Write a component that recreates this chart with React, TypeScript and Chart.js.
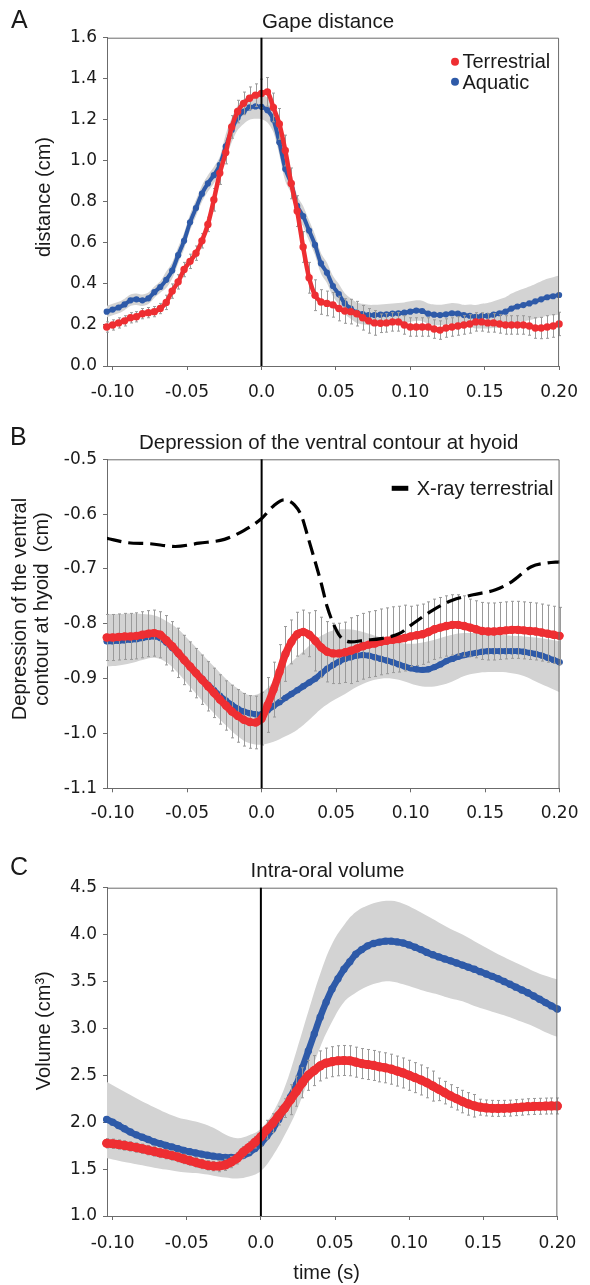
import React, { useEffect, useRef } from "react";
import { Chart, registerables } from "chart.js";

Chart.register(...registerables);

// ---------------- data ----------------
// sampling times (s)
const TIME: number[] = [
  -0.104, -0.1, -0.096, -0.092, -0.088, -0.084, -0.08, -0.076, -0.072, -0.068,
  -0.064, -0.06, -0.056, -0.052, -0.048, -0.044, -0.04, -0.036, -0.032, -0.028,
  -0.024, -0.02, -0.016, -0.012, -0.008, -0.004, 0.0, 0.004, 0.008, 0.012,
  0.016, 0.02, 0.024, 0.028, 0.032, 0.036, 0.04, 0.044, 0.048, 0.052,
  0.056, 0.06, 0.064, 0.068, 0.072, 0.076, 0.08, 0.084, 0.088, 0.092,
  0.096, 0.1, 0.104, 0.108, 0.112, 0.116, 0.12, 0.124, 0.128, 0.132,
  0.136, 0.14, 0.144, 0.148, 0.152, 0.156, 0.16, 0.164, 0.168, 0.172,
  0.176, 0.18, 0.184, 0.188, 0.192, 0.196, 0.2,
];
const BAND_TIME: number[] = [
  -0.104, -0.096, -0.088, -0.08, -0.072, -0.064, -0.056, -0.048, -0.04, -0.032,
  -0.024, -0.016, -0.008, 0.0, 0.008, 0.016, 0.024, 0.032, 0.04, 0.048,
  0.056, 0.064, 0.072, 0.08, 0.088, 0.096, 0.104, 0.112, 0.12, 0.128,
  0.136, 0.144, 0.152, 0.16, 0.168, 0.176, 0.184, 0.192, 0.2,
];

const X_TICKS = [-0.1, -0.05, 0, 0.05, 0.1, 0.15, 0.2];
const X_TICK_LABELS = ["-0.10", "-0.05", "0.0", "0.05", "0.10", "0.15", "0.20"];

// Panel A: gape distance (cm)
const Y_TICKS_A = [0, 0.2, 0.4, 0.6, 0.8, 1.0, 1.2, 1.4, 1.6];
const Y_LABELS_A = ["0.0", "0.2", "0.4", "0.6", "0.8", "1.0", "1.2", "1.4", "1.6"];
const A_TERRESTRIAL: number[] = [
  0.19, 0.2, 0.21, 0.22, 0.235, 0.24, 0.255, 0.26, 0.265, 0.28,
  0.31, 0.365, 0.41, 0.47, 0.51, 0.55, 0.61, 0.69, 0.81, 0.94,
  1.04, 1.165, 1.24, 1.28, 1.305, 1.32, 1.328, 1.336, 1.26, 1.18,
  1.05, 0.89, 0.755, 0.58, 0.43, 0.345, 0.312, 0.305, 0.298, 0.28,
  0.268, 0.265, 0.255, 0.235, 0.22, 0.21, 0.208, 0.21, 0.215, 0.215,
  0.2, 0.19, 0.19, 0.19, 0.19, 0.18, 0.175, 0.185, 0.19, 0.195,
  0.2, 0.205, 0.215, 0.215, 0.21, 0.21, 0.205, 0.2, 0.2, 0.2,
  0.2, 0.195, 0.185, 0.185, 0.19, 0.195, 0.205,
];
const A_TERRESTRIAL_SE: number[] = [
  0.025, 0.025, 0.025, 0.025, 0.025, 0.025, 0.025, 0.025, 0.025, 0.025,
  0.035, 0.035, 0.035, 0.035, 0.035, 0.035, 0.035, 0.035, 0.055, 0.055,
  0.055, 0.055, 0.055, 0.055, 0.055, 0.055, 0.07, 0.07, 0.07, 0.075,
  0.075, 0.075, 0.075, 0.075, 0.075, 0.075, 0.06, 0.06, 0.06, 0.06,
  0.06, 0.06, 0.06, 0.06, 0.06, 0.06, 0.045, 0.045, 0.045, 0.045,
  0.045, 0.045, 0.045, 0.045, 0.045, 0.045, 0.045, 0.045, 0.045, 0.045,
  0.045, 0.045, 0.045, 0.045, 0.045, 0.045, 0.045, 0.045, 0.045, 0.045,
  0.045, 0.045, 0.05, 0.052, 0.055, 0.055, 0.057,
];
const A_AQUATIC: number[] = [
  0.265, 0.275, 0.285, 0.3, 0.32, 0.325, 0.32, 0.33, 0.36, 0.385,
  0.42, 0.465, 0.54, 0.61, 0.7, 0.77, 0.84, 0.89, 0.93, 0.98,
  1.07, 1.15, 1.21, 1.24, 1.26, 1.265, 1.263, 1.247, 1.2, 1.09,
  0.96, 0.89, 0.78, 0.73, 0.66, 0.59, 0.5, 0.455, 0.39, 0.35,
  0.305, 0.28, 0.26, 0.253, 0.248, 0.248, 0.25, 0.252, 0.255, 0.257,
  0.26, 0.265, 0.27, 0.268, 0.255, 0.25, 0.248, 0.252, 0.257, 0.255,
  0.248, 0.245, 0.24, 0.243, 0.245, 0.25, 0.257, 0.265, 0.28, 0.29,
  0.297, 0.305, 0.315, 0.325, 0.335, 0.34, 0.346,
];
const A_AQUATIC_SE: number[] = [
  0.028, 0.028, 0.028, 0.028, 0.028, 0.028, 0.028, 0.028, 0.028, 0.028,
  0.04, 0.04, 0.04, 0.04, 0.04, 0.04, 0.04, 0.04, 0.04, 0.04,
  0.06, 0.06, 0.06, 0.06, 0.06, 0.06, 0.06, 0.06, 0.06, 0.06,
  0.06, 0.05, 0.05, 0.05, 0.05, 0.05, 0.05, 0.05, 0.05, 0.05,
  0.05, 0.05, 0.05, 0.05, 0.05, 0.05, 0.05, 0.05, 0.05, 0.05,
  0.05, 0.05, 0.05, 0.05, 0.05, 0.05, 0.05, 0.05, 0.05, 0.05,
  0.05, 0.055, 0.057, 0.06, 0.062, 0.065, 0.068, 0.07, 0.073, 0.076,
  0.079, 0.082, 0.085, 0.088, 0.09, 0.093, 0.095,
];

// Panel B: depression of the ventral contour at hyoid (cm)
const Y_TICKS_B = [-1.1, -1.0, -0.9, -0.8, -0.7, -0.6, -0.5];
const Y_LABELS_B = ["-1.1", "-1.0", "-0.9", "-0.8", "-0.7", "-0.6", "-0.5"];
const B_TERRESTRIAL: number[] = [
  -0.825, -0.825, -0.824, -0.823, -0.823, -0.822, -0.82, -0.818, -0.817, -0.82,
  -0.83, -0.841, -0.853, -0.866, -0.878, -0.89, -0.902, -0.914, -0.926, -0.938,
  -0.949, -0.96, -0.968, -0.975, -0.979, -0.98, -0.973, -0.948, -0.92, -0.888,
  -0.855, -0.833, -0.819, -0.815, -0.82, -0.831, -0.843, -0.851, -0.854, -0.854,
  -0.852, -0.849, -0.845, -0.841, -0.838, -0.836, -0.833, -0.831, -0.829, -0.828,
  -0.826, -0.823, -0.821, -0.819, -0.815, -0.81, -0.807, -0.804, -0.802, -0.802,
  -0.804, -0.807, -0.81, -0.813, -0.814, -0.814, -0.813, -0.812, -0.811, -0.811,
  -0.812, -0.813, -0.814, -0.816, -0.818, -0.82, -0.822,
];
const B_TERRESTRIAL_SE: number[] = [
  0.042, 0.042, 0.042, 0.042, 0.042, 0.042, 0.042, 0.042, 0.042, 0.042,
  0.045, 0.045, 0.045, 0.045, 0.045, 0.045, 0.045, 0.045, 0.045, 0.045,
  0.045, 0.048, 0.048, 0.048, 0.048, 0.048, 0.048, 0.05, 0.05, 0.05,
  0.05, 0.04, 0.04, 0.04, 0.04, 0.055, 0.055, 0.055, 0.055, 0.055,
  0.055, 0.06, 0.06, 0.06, 0.06, 0.06, 0.06, 0.06, 0.06, 0.06,
  0.06, 0.055, 0.055, 0.055, 0.055, 0.055, 0.055, 0.055, 0.055, 0.055,
  0.055, 0.052, 0.052, 0.052, 0.052, 0.052, 0.052, 0.052, 0.052, 0.052,
  0.052, 0.052, 0.052, 0.052, 0.052, 0.052, 0.052,
];
const B_AQUATIC: number[] = [
  -0.832, -0.832, -0.831, -0.83, -0.829, -0.828, -0.826, -0.824, -0.823, -0.826,
  -0.834, -0.844, -0.855, -0.867, -0.878, -0.889, -0.9, -0.911, -0.921, -0.931,
  -0.94, -0.948, -0.955, -0.96, -0.963, -0.965, -0.965, -0.958, -0.95, -0.943,
  -0.935, -0.928, -0.921, -0.914, -0.907, -0.9, -0.891, -0.882, -0.875, -0.869,
  -0.864, -0.861, -0.858, -0.857, -0.858, -0.861, -0.864, -0.867, -0.87, -0.874,
  -0.878, -0.881, -0.883, -0.884, -0.883, -0.879, -0.874, -0.868, -0.864, -0.86,
  -0.857, -0.855, -0.853, -0.851, -0.85, -0.85, -0.85, -0.85, -0.85, -0.85,
  -0.851, -0.853, -0.855, -0.858, -0.862, -0.866, -0.87,
];
const B_AQUATIC_UPPER: number[] = [
  -0.782, -0.782, -0.781, -0.782, -0.785, -0.795, -0.81, -0.832, -0.855, -0.878,
  -0.9, -0.918, -0.93, -0.925, -0.905, -0.88, -0.86, -0.84, -0.822, -0.812,
  -0.81, -0.812, -0.818, -0.825, -0.832, -0.836, -0.836, -0.832, -0.826, -0.82,
  -0.817, -0.817, -0.818, -0.82, -0.822, -0.823, -0.825, -0.828, -0.832,
];
const B_AQUATIC_LOWER: number[] = [
  -0.878, -0.876, -0.872, -0.866, -0.862, -0.87, -0.89, -0.915, -0.94, -0.963,
  -0.985, -1.005, -1.018, -1.02, -1.015, -1.005, -0.993, -0.975, -0.955, -0.94,
  -0.928, -0.915, -0.905, -0.9, -0.9, -0.905, -0.912, -0.915, -0.912, -0.905,
  -0.895, -0.89, -0.888, -0.888, -0.89, -0.895, -0.905, -0.915, -0.925,
];
const XRAY_TIME: number[] = [
  -0.104, -0.09, -0.075, -0.058, -0.042, -0.025, -0.012, 0.0, 0.008, 0.015,
  0.022, 0.027, 0.031, 0.035, 0.04, 0.044, 0.049, 0.053, 0.06, 0.069,
  0.08, 0.093, 0.102, 0.115, 0.128, 0.142, 0.157, 0.168, 0.181, 0.192, 0.2,
];
const XRAY_TERRESTRIAL: number[] = [
  -0.644, -0.652, -0.654, -0.659, -0.653, -0.646, -0.63, -0.608, -0.585, -0.574,
  -0.583, -0.605, -0.641, -0.678, -0.726, -0.769, -0.805, -0.824, -0.833, -0.83,
  -0.827, -0.817, -0.799, -0.775, -0.757, -0.747, -0.738, -0.723, -0.696, -0.689, -0.687,
];

// Panel C: intra-oral volume (cm3)
const Y_TICKS_C = [1.0, 1.5, 2.0, 2.5, 3.0, 3.5, 4.0, 4.5];
const Y_LABELS_C = ["1.0", "1.5", "2.0", "2.5", "3.0", "3.5", "4.0", "4.5"];
const C_TERRESTRIAL: number[] = [
  1.775, 1.77, 1.762, 1.752, 1.742, 1.73, 1.717, 1.702, 1.688, 1.673,
  1.66, 1.645, 1.628, 1.608, 1.59, 1.572, 1.555, 1.54, 1.532, 1.532,
  1.545, 1.575, 1.615, 1.68, 1.73, 1.785, 1.845, 1.92, 1.99, 2.07,
  2.15, 2.24, 2.33, 2.42, 2.5, 2.55, 2.6, 2.63, 2.645, 2.655,
  2.658, 2.655, 2.64, 2.625, 2.615, 2.605, 2.59, 2.58, 2.565, 2.545,
  2.525, 2.5, 2.475, 2.45, 2.42, 2.385, 2.35, 2.315, 2.28, 2.25,
  2.22, 2.195, 2.175, 2.16, 2.152, 2.148, 2.147, 2.148, 2.15, 2.155,
  2.16, 2.165, 2.168, 2.17, 2.172, 2.173, 2.173,
];
const C_TERRESTRIAL_SE: number[] = [
  0.05, 0.05, 0.05, 0.05, 0.05, 0.05, 0.05, 0.05, 0.05, 0.05,
  0.05, 0.05, 0.05, 0.05, 0.05, 0.05, 0.05, 0.05, 0.05, 0.06,
  0.06, 0.06, 0.06, 0.06, 0.06, 0.06, 0.1, 0.1, 0.1, 0.1,
  0.1, 0.16, 0.16, 0.16, 0.16, 0.16, 0.16, 0.16, 0.16, 0.16,
  0.16, 0.16, 0.16, 0.16, 0.16, 0.16, 0.16, 0.16, 0.16, 0.16,
  0.16, 0.16, 0.16, 0.16, 0.16, 0.16, 0.12, 0.12, 0.12, 0.12,
  0.12, 0.12, 0.12, 0.085, 0.085, 0.085, 0.085, 0.085, 0.085, 0.085,
  0.085, 0.085, 0.085, 0.085, 0.085, 0.085, 0.085,
];
const C_AQUATIC: number[] = [
  2.03, 2.0, 1.965, 1.93, 1.895, 1.865, 1.84, 1.815, 1.79, 1.772,
  1.752, 1.735, 1.718, 1.7, 1.685, 1.672, 1.66, 1.648, 1.638, 1.63,
  1.625, 1.624, 1.628, 1.645, 1.675, 1.72, 1.775, 1.85, 1.93, 2.03,
  2.15, 2.27, 2.4, 2.58, 2.76, 2.94, 3.12, 3.28, 3.42, 3.53,
  3.63, 3.71, 3.79, 3.84, 3.88, 3.905, 3.92, 3.93, 3.93, 3.922,
  3.91, 3.89, 3.865, 3.84, 3.81, 3.785, 3.762, 3.74, 3.72, 3.697,
  3.675, 3.652, 3.63, 3.605, 3.58, 3.555, 3.53, 3.5, 3.47, 3.44,
  3.41, 3.38, 3.345, 3.31, 3.275, 3.24, 3.207,
];
const C_AQUATIC_UPPER: number[] = [
  2.43, 2.36, 2.29, 2.22, 2.16, 2.1, 2.05, 2.02, 1.99, 1.94,
  1.87, 1.83, 1.86, 1.93, 2.1, 2.37, 2.76, 3.18, 3.58, 3.9,
  4.1, 4.24, 4.31, 4.35, 4.36, 4.33, 4.27, 4.2, 4.13, 4.06,
  4.0, 3.93, 3.86, 3.79, 3.73, 3.67, 3.61, 3.56, 3.52,
];
const C_AQUATIC_LOWER: number[] = [
  1.615, 1.59, 1.565, 1.54, 1.515, 1.495, 1.475, 1.46, 1.45, 1.43,
  1.41, 1.4, 1.42, 1.48, 1.64, 1.86, 2.12, 2.45, 2.8, 3.07,
  3.28, 3.38, 3.45, 3.49, 3.5, 3.47, 3.43, 3.39, 3.36, 3.32,
  3.29, 3.24, 3.2, 3.16, 3.12, 3.07, 3.02, 2.96, 2.91,
];

// ---------------- styles ----------------
const RED = "#ee2e32";
const BLUE = "#2e5aa8";
const BAND = "#d3d3d3";
const WHISKER = "#9a9a9a";
const AXIS = "#6b6b6b";
const TEXT = "#1a1a1a";
const TEXT_FAMILY = "'Liberation Sans', Arial, sans-serif";
const TICK_FAMILY = "'DejaVu Sans', sans-serif";

type Txt = {
  text: string; x: number; y: number; size: number;
  align?: CanvasTextAlign; baseline?: CanvasTextBaseline; rotate?: boolean;
};
type Mark =
  | { kind: "dot"; x: number; y: number; r: number; color: string }
  | { kind: "dash"; x1: number; x2: number; y: number; w: number; color: string };

interface Panel {
  top: number; height: number; padTop: number; xAxisH: number; xTickPad: number;
  yMin: number; yMax: number; yTicks: number[]; yLabels: string[];
  red: number[]; redSE: number[]; blue: number[];
  bandT: number[]; bandHi: number[]; bandLo: number[]; bandTension: number;
  redR: number; blueR: number; redW: number; blueW: number;
  dashed?: { t: number[]; v: number[] };
  texts: Txt[]; marks: Mark[];
}

const PANEL_A: Panel = {
  top: 0, height: 410, padTop: 37.7, xAxisH: 44, xTickPad: 12,
  yMin: 0, yMax: 1.6, yTicks: Y_TICKS_A, yLabels: Y_LABELS_A,
  red: A_TERRESTRIAL, redSE: A_TERRESTRIAL_SE, blue: A_AQUATIC,
  bandT: TIME,
  bandHi: A_AQUATIC.map((v, i) => v + A_AQUATIC_SE[i]),
  bandLo: A_AQUATIC.map((v, i) => v - A_AQUATIC_SE[i]),
  bandTension: 0.3, redR: 3.7, blueR: 3.1, redW: 4.5, blueW: 4,
  texts: [
    { text: "A", x: 11, y: 28.3, size: 25 },
    { text: "Gape distance", x: 328, y: 28, size: 20.5, align: "center" },
    { text: "distance (cm)", x: 44, y: 197, size: 20, align: "center", baseline: "middle", rotate: true },
    { text: "Terrestrial", x: 462.5, y: 68.3, size: 20 },
    { text: "Aquatic", x: 462.5, y: 88.5, size: 20 },
  ],
  marks: [
    { kind: "dot", x: 455, y: 61.7, r: 4, color: RED },
    { kind: "dot", x: 455, y: 81.7, r: 4, color: BLUE },
  ],
};

const PANEL_B: Panel = {
  top: 410, height: 430, padTop: 49.3, xAxisH: 51.7, xTickPad: 11.5,
  yMin: -1.1, yMax: -0.5, yTicks: Y_TICKS_B, yLabels: Y_LABELS_B,
  red: B_TERRESTRIAL, redSE: B_TERRESTRIAL_SE, blue: B_AQUATIC,
  bandT: BAND_TIME, bandHi: B_AQUATIC_UPPER, bandLo: B_AQUATIC_LOWER,
  bandTension: 0.4, redR: 4.2, blueR: 3.2, redW: 7.5, blueW: 5.8,
  dashed: { t: XRAY_TIME, v: XRAY_TERRESTRIAL },
  texts: [
    { text: "B", x: 10, y: 35, size: 25 },
    { text: "Depression of the ventral contour at hyoid", x: 328.7, y: 39.3, size: 20.5, align: "center" },
    { text: "Depression of the ventral", x: 20, y: 199, size: 20, align: "center", baseline: "middle", rotate: true },
    { text: "contour at hyoid  (cm)", x: 42, y: 199, size: 20, align: "center", baseline: "middle", rotate: true },
    { text: "X-ray terrestrial", x: 416.7, y: 85, size: 20 },
  ],
  marks: [{ kind: "dash", x1: 391.7, x2: 408.3, y: 78.3, w: 5, color: "#000" }],
};

const PANEL_C: Panel = {
  top: 840, height: 445, padTop: 47.7, xAxisH: 69, xTickPad: 13.7,
  yMin: 1, yMax: 4.5, yTicks: Y_TICKS_C, yLabels: Y_LABELS_C,
  red: C_TERRESTRIAL, redSE: C_TERRESTRIAL_SE, blue: C_AQUATIC,
  bandT: BAND_TIME, bandHi: C_AQUATIC_UPPER, bandLo: C_AQUATIC_LOWER,
  bandTension: 0.4, redR: 4.6, blueR: 3.7, redW: 8.5, blueW: 6.5,
  texts: [
    { text: "C", x: 10, y: 35, size: 25 },
    { text: "Intra-oral volume", x: 327.5, y: 37.3, size: 20.5, align: "center" },
    { text: "Volume (cm\u00B3)", x: 44.5, y: 190.7, size: 20, align: "center", baseline: "middle", rotate: true },
    { text: "time (s)", x: 326.7, y: 439, size: 20, align: "center" },
  ],
  marks: [],
};

const PANELS = [PANEL_A, PANEL_B, PANEL_C];

// ---------------- plugins ----------------
const whiskerPlugin = {
  id: "whiskers",
  beforeDatasetDraw(chart: any, args: any) {
    const ds: any = chart.data.datasets[args.index];
    if (!ds.whiskers) return;
    const ctx = chart.ctx;
    const xs = chart.scales.x;
    const ys = chart.scales.y;
    ctx.save();
    ctx.strokeStyle = WHISKER;
    ctx.lineWidth = 1;
    ctx.beginPath();
    ds.data.forEach((pt: any, i: number) => {
      const se = ds.whiskers[i];
      const x = Math.round(xs.getPixelForValue(pt.x)) + 0.5;
      const yT = ys.getPixelForValue(pt.y + se);
      const yB = ys.getPixelForValue(pt.y - se);
      ctx.moveTo(x, yT);
      ctx.lineTo(x, yB);
      ctx.moveTo(x - 1.5, yT);
      ctx.lineTo(x + 1.5, yT);
      ctx.moveTo(x - 1.5, yB);
      ctx.lineTo(x + 1.5, yB);
    });
    ctx.stroke();
    ctx.restore();
  },
};

const framePlugin = {
  id: "frame",
  afterDatasetsDraw(chart: any) {
    const { ctx, chartArea: a, scales } = chart;
    const x0 = scales.x.getPixelForValue(0);
    ctx.save();
    ctx.strokeStyle = AXIS;
    ctx.lineWidth = 1;
    ctx.beginPath();
    ctx.moveTo(a.left, a.top + 0.5);
    ctx.lineTo(a.right - 0.5, a.top + 0.5);
    ctx.lineTo(a.right - 0.5, a.bottom);
    ctx.stroke();
    ctx.strokeStyle = "#000";
    ctx.lineWidth = 2;
    ctx.beginPath();
    ctx.moveTo(x0, a.top);
    ctx.lineTo(x0, a.bottom);
    ctx.stroke();
    ctx.restore();
  },
};

function annotPlugin(p: Panel) {
  return {
    id: "annot",
    afterDraw(chart: any) {
      const ctx: CanvasRenderingContext2D = chart.ctx;
      ctx.save();
      p.marks.forEach((m) => {
        if (m.kind === "dot") {
          ctx.fillStyle = m.color;
          ctx.beginPath();
          ctx.arc(m.x, m.y, m.r, 0, Math.PI * 2);
          ctx.fill();
        } else {
          ctx.strokeStyle = m.color;
          ctx.lineWidth = m.w;
          ctx.lineCap = "butt";
          ctx.beginPath();
          ctx.moveTo(m.x1, m.y);
          ctx.lineTo(m.x2, m.y);
          ctx.stroke();
        }
      });
      p.texts.forEach((t) => {
        ctx.font = `${t.size}px ${TEXT_FAMILY}`;
        ctx.fillStyle = TEXT;
        ctx.textAlign = t.align ?? "left";
        ctx.textBaseline = t.baseline ?? "alphabetic";
        if (t.rotate) {
          ctx.save();
          ctx.translate(t.x, t.y);
          ctx.rotate(-Math.PI / 2);
          ctx.fillText(t.text, 0, 0);
          ctx.restore();
        } else {
          ctx.fillText(t.text, t.x, t.y);
        }
      });
      ctx.restore();
    },
  };
}

function buildConfig(p: Panel): any {
  const pts = (xs: number[], ys: number[]) => xs.map((x, i) => ({ x, y: ys[i] }));
  const datasets: any[] = [
    {
      label: "Aquatic SE upper", data: pts(p.bandT, p.bandHi),
      borderColor: "rgba(0,0,0,0)", borderWidth: 0, pointRadius: 0,
      fill: "+1", backgroundColor: BAND, tension: p.bandTension, order: 6,
    },
    {
      label: "Aquatic SE lower", data: pts(p.bandT, p.bandLo),
      borderColor: "rgba(0,0,0,0)", borderWidth: 0, pointRadius: 0,
      fill: false, tension: p.bandTension, order: 5,
    },
    {
      label: "Aquatic", data: pts(TIME, p.blue), showLine: true,
      borderColor: BLUE, borderWidth: p.blueW, borderCapStyle: "round", borderJoinStyle: "round",
      tension: 0.3, fill: false,
      pointRadius: p.blueR, pointBackgroundColor: BLUE, pointBorderWidth: 0,
      pointBorderColor: BLUE, order: 4, clip: false,
    },
    {
      label: "Terrestrial", data: pts(TIME, p.red), showLine: true,
      borderColor: RED, borderWidth: p.redW, borderCapStyle: "round", borderJoinStyle: "round",
      tension: 0.3, fill: false,
      pointRadius: p.redR, pointBackgroundColor: RED, pointBorderWidth: 0,
      pointBorderColor: RED, order: 3, clip: false, whiskers: p.redSE,
    },
  ];
  if (p.dashed) {
    datasets.push({
      label: "X-ray terrestrial", data: pts(p.dashed.t, p.dashed.v),
      borderColor: "#000", borderWidth: 3.2, borderDash: [15, 7],
      borderCapStyle: "butt", pointRadius: 0, fill: false,
      cubicInterpolationMode: "monotone", order: 1,
    });
  }
  const tickFont = { family: TICK_FAMILY, size: 17 };
  return {
    type: "line",
    data: { datasets },
    options: {
      responsive: false,
      animation: false,
      events: [],
      layout: { padding: { top: p.padTop, right: 25, left: 0, bottom: 0 } },
      plugins: {
        legend: { display: false },
        tooltip: { enabled: false },
        title: { display: false },
      },
      scales: {
        x: {
          type: "linear", position: "bottom", min: -0.1038, max: 0.2,
          afterBuildTicks: (s: any) => { s.ticks = X_TICKS.map((v) => ({ value: v })); },
          afterFit: (s: any) => { s.height = p.xAxisH; },
          ticks: {
            autoSkip: false, maxRotation: 0, minRotation: 0, padding: p.xTickPad,
            font: tickFont, color: TEXT,
            callback: (_v: any, i: number) => X_TICK_LABELS[i],
          },
          grid: { display: true, drawOnChartArea: false, drawTicks: true, tickLength: 4, color: AXIS, lineWidth: 1 },
          border: { display: true, color: AXIS, width: 1 },
        },
        y: {
          type: "linear", position: "left", min: p.yMin, max: p.yMax,
          afterBuildTicks: (s: any) => { s.ticks = p.yTicks.map((v) => ({ value: v })); },
          afterFit: (s: any) => { s.width = 107; },
          ticks: {
            autoSkip: false, padding: 6, font: tickFont, color: TEXT,
            callback: (_v: any, i: number) => p.yLabels[i],
          },
          grid: { display: true, drawOnChartArea: false, drawTicks: true, tickLength: 4, color: AXIS, lineWidth: 1 },
          border: { display: true, color: AXIS, width: 1 },
        },
      },
    },
    plugins: [whiskerPlugin, framePlugin, annotPlugin(p)],
  };
}

function PanelChart({ panel }: { panel: Panel }) {
  const ref = useRef<HTMLCanvasElement>(null);
  useEffect(() => {
    if (!ref.current) return;
    const chart = new Chart(ref.current, buildConfig(panel));
    return () => chart.destroy();
  }, [panel]);
  return (
    <canvas
      ref={ref}
      width={590}
      height={panel.height}
      style={{ position: "absolute", left: 0, top: panel.top, width: 590, height: panel.height, display: "block" }}
    />
  );
}

export default function App() {
  return (
    <div style={{ position: "absolute", left: 0, top: 0, width: 590, height: 1285, background: "#fff", overflow: "hidden" }}>
      {PANELS.map((p, i) => (
        <PanelChart key={i} panel={p} />
      ))}
    </div>
  );
}
